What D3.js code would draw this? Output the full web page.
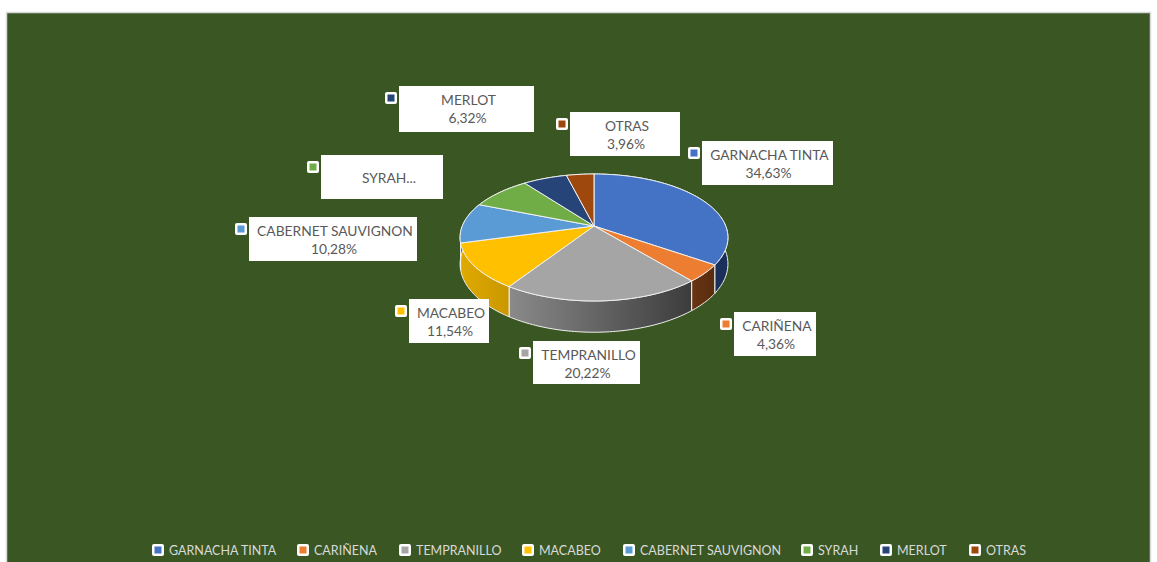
<!DOCTYPE html>
<html>
<head>
<meta charset="utf-8">
<script src="https://cdn.jsdelivr.net/npm/d3@7"></script>
<style>
  html, body { margin: 0; padding: 0; background: #fff; overflow: hidden; }
  svg { display: block; font-family: Lato, "Open Sans", sans-serif; }
</style>
</head>
<body>
<div id="chart"></div>
<script>
// Grape varieties, share of planted area.
const varieties = ['GARNACHA TINTA', 'CARIÑENA', 'TEMPRANILLO', 'MACABEO', 'CABERNET SAUVIGNON', 'SYRAH', 'MERLOT', 'OTRAS'];
const shares = [34.63, 4.36, 20.22, 11.54, 10.28, 8.69, 6.32, 3.96];
const topColors = ['#4472c4', '#ed7d31', '#a5a5a5', '#ffc000', '#5b9bd5', '#70ad47', '#264478', '#9e480e'];
const wallLeft = ['#1a2f59', '#6a3512', '#8a8a8a', '#e0aa00', '#3a6a9a', '#4a7a2c', '#1a2f59', '#6a3512'];
const wallRight = ['#1a2f59', '#582c10', '#3c3c3c', '#c99700', '#3a6a9a', '#4a7a2c', '#1a2f59', '#6a3512'];

const width = 1157;
const height = 562;

const svg = d3.select('#chart')
    .append('svg')
    .attr('width', width)
    .attr('height', height);

// Chart area.
svg.append('rect')
    .attr('x', 6.5).attr('y', 12.5)
    .attr('width', 1144).attr('height', 560)
    .attr('fill', '#3a5723')
    .attr('stroke', '#d9d9d9')
    .attr('stroke-width', 1.5);

// Perspective projection of the pie disc onto the screen.
const cx = 594, cy = 226, radius = 131.7, tilt = 61.4, persp = 0.181, depth = 25.6;

function project(angle, r, drop) {
    const u = Math.sin(angle) * r;
    const v = -Math.cos(angle) * r;
    const w = 1 / (1 - persp * v);
    return [cx + radius * u * w, cy + tilt * v * w + (drop ? depth * w : 0)];
}

const line = d3.line();
const arcs = d3.pie().sort(null).value(d => d)(shares);
const defs = svg.append('defs');

function arcPoints(a0, a1, drop) {
    const n = Math.max(2, Math.ceil((a1 - a0) / 0.02));
    return d3.range(n + 1).map(i => project(a0 + (a1 - a0) * i / n, 1, drop));
}

// Outer walls first, the top faces cover whatever lies behind.
const walls = svg.append('g');
arcs.forEach((d, i) => {
    const top = arcPoints(d.startAngle, d.endAngle, false);
    const bottom = arcPoints(d.startAngle, d.endAngle, true).reverse();
    const xs = d3.extent(top, p => p[0]);
    const grad = defs.append('linearGradient')
        .attr('id', `wall-${i}`)
        .attr('gradientUnits', 'userSpaceOnUse')
        .attr('x1', xs[0]).attr('x2', xs[1])
        .attr('y1', 0).attr('y2', 0);
    grad.append('stop').attr('offset', 0).attr('stop-color', wallLeft[i]);
    grad.append('stop').attr('offset', 1).attr('stop-color', wallRight[i]);
    walls.append('path')
        .attr('d', line(top.concat(bottom)) + 'Z')
        .attr('fill', `url(#wall-${i})`)
        .attr('stroke', '#f2f2f2')
        .attr('stroke-width', 1);
});

// Top faces.
const faces = svg.append('g');
arcs.forEach((d, i) => {
    const pts = [project(0, 0, false)].concat(arcPoints(d.startAngle, d.endAngle, false));
    faces.append('path')
        .attr('d', line(pts) + 'Z')
        .attr('fill', topColors[i])
        .attr('stroke', '#f2f2f2')
        .attr('stroke-width', 1)
        .attr('stroke-linejoin', 'round');
});

function marker(parent, x, y, color) {
    parent.append('rect')
        .attr('x', x - 6).attr('y', y - 6)
        .attr('width', 12).attr('height', 12)
        .attr('rx', 2)
        .attr('fill', '#fff');
    parent.append('rect')
        .attr('x', x - 3.5).attr('y', y - 3.5)
        .attr('width', 7).attr('height', 7)
        .attr('fill', color);
}

// Data label boxes: left, top, right, bottom, in variety order.
const labelBoxes = [
    [702, 141, 833, 185],
    [734, 312, 816, 356],
    [533, 341, 640, 384],
    [409, 299, 489, 343],
    [249, 217, 417, 261],
    [321, 155, 443, 199],
    [399, 86, 534, 132],
    [570, 112, 680, 156]
];

const labels = svg.append('g');
arcs.forEach((d, i) => {
    const [x0, y0, x1, y1] = labelBoxes[i];
    const mid = (x0 + x1) / 2;
    labels.append('rect')
        .attr('x', x0).attr('y', y0)
        .attr('width', x1 - x0).attr('height', y1 - y0)
        .attr('fill', '#fff');
    marker(labels, x0 - 8, y0 + 12, topColors[i]);

    const text = labels.append('text')
        .attr('text-anchor', 'middle')
        .attr('font-size', 13.8)
        .attr('fill', '#595959');
    if (varieties[i] === 'SYRAH') {
        // The original label is cut off and has no value line.
        text.attr('x', mid + 7).attr('y', y0 + 28).text('SYRAH...');
    } else {
        text.append('tspan').attr('x', mid + 2).attr('y', y0 + 19).text(varieties[i]);
        text.append('tspan').attr('x', mid + 1).attr('y', y0 + 37)
            .text(d3.format('.2f')(shares[i]).replace('.', ',') + '%');
    }
});

// Legend.
const legendX = [158, 303, 405, 528, 629, 807, 886, 975];
const legend = svg.append('g');
varieties.forEach((name, i) => {
    marker(legend, legendX[i], 550, topColors[i]);
    legend.append('text')
        .attr('x', legendX[i] + 11)
        .attr('y', 555)
        .attr('font-size', 12.5)
        .attr('fill', '#d9d9d9')
        .text(name);
});
</script>
</body>
</html>
